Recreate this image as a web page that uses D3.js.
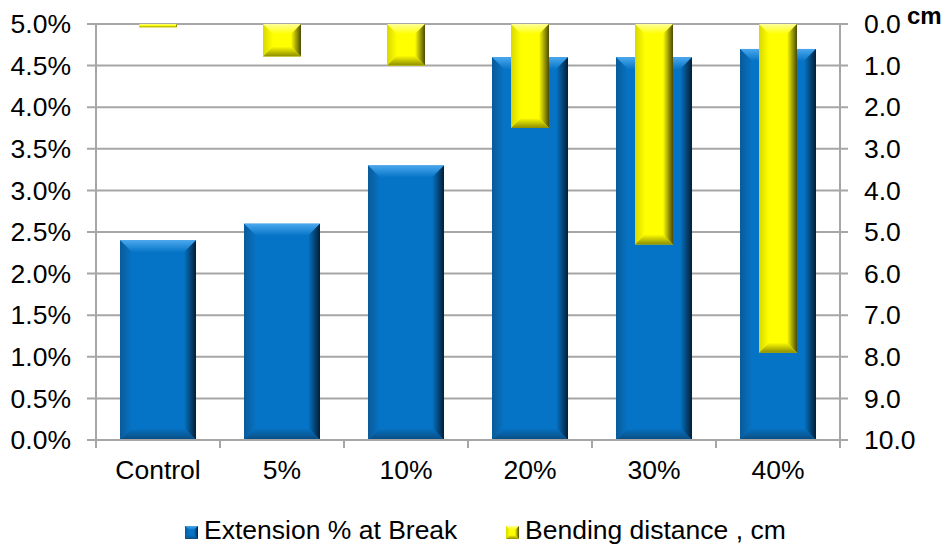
<!DOCTYPE html>
<html><head><meta charset="utf-8">
<script src="https://cdn.jsdelivr.net/npm/d3@7"></script>
<style>body{margin:0;background:#fff}svg{display:block}text{font-family:"Liberation Sans",Arial,sans-serif;fill:#000}</style>
</head><body><svg id="c" width="950" height="550"></svg>
<script>
const categories = ["Control","5%","10%","20%","30%","40%"];
const extension = [0.024,0.026,0.033,0.046,0.046,0.047];
const bending = [0.08,0.78,1.0,2.5,5.3,7.9];
const leftTicks = [0,0.005,0.01,0.015,0.02,0.025,0.03,0.035,0.04,0.045,0.05];
const rightTicks = [0,1,2,3,4,5,6,7,8,9,10];
const seriesNames = ["Extension % at Break","Bending distance , cm"];

const svg = d3.select("#c");
const L = 96, R = 840, T = 24, B = 440;
const x = d3.scaleBand().domain(categories).range([L,R]).paddingInner(0.387).paddingOuter(0.1935);
const yL = d3.scaleLinear().domain([0,0.05]).range([B,T]);
const yR = d3.scaleLinear().domain([0,10]).range([T,B]);
const grid = "#a6a6a6";

svg.append("g").selectAll("line").data(leftTicks).join("line")
  .attr("x1",L-9).attr("x2",R+8).attr("y1",d=>yL(d)).attr("y2",d=>yL(d))
  .attr("stroke",grid).attr("stroke-width",2);

const defs = svg.append("defs");
function grad(id,x1,y1,x2,y2,c1,c2){
  const g = defs.append("linearGradient").attr("id",id).attr("x1",x1).attr("y1",y1).attr("x2",x2).attr("y2",y2);
  g.append("stop").attr("offset","0%").attr("stop-color",c1);
  g.append("stop").attr("offset","100%").attr("stop-color",c2);
}
const pal = {
  b:{base:"#0674c6",top:"#4aa8ee",left:"#0a5a98",right:"#041e35",bottom:"#0a4a7e"},
  y:{base:"#ffff00",top:"#ffff9a",left:"#d8d800",right:"#4a4a00",bottom:"#8c8c00"}
};
Object.entries(pal).forEach(([k,p])=>{
  grad(k+"T",0,0,0,1,p.top,p.base);
  grad(k+"R",0,0,1,0,p.base,p.right);
  grad(k+"Bt",0,0,0,1,p.base,p.bottom);
  grad(k+"L",0,0,1,0,p.left,p.base);
});
function bevel(g,x0,y0,w,h,k,bs){
  const b = Math.min(bs,w/2,h/2);
  g.append("rect").attr("x",x0).attr("y",y0).attr("width",w).attr("height",h).attr("fill",pal[k].base);
  const P = a=>a.map(p=>p.join(",")).join(" ");
  g.append("polygon").attr("points",P([[x0,y0],[x0+w,y0],[x0+w-b,y0+b],[x0+b,y0+b]])).attr("fill",`url(#${k}T)`);
  g.append("polygon").attr("points",P([[x0,y0],[x0+b,y0+b],[x0+b,y0+h-b],[x0,y0+h]])).attr("fill",`url(#${k}L)`);
  g.append("polygon").attr("points",P([[x0+w,y0],[x0+w,y0+h],[x0+w-b,y0+h-b],[x0+w-b,y0+b]])).attr("fill",`url(#${k}R)`);
  g.append("polygon").attr("points",P([[x0,y0+h],[x0+w,y0+h],[x0+w-b,y0+h-b],[x0+b,y0+h-b]])).attr("fill",`url(#${k}Bt)`);
}

const gb = svg.append("g");
categories.forEach((c,i)=>{
  bevel(gb,x(c),yL(extension[i]),x.bandwidth(),B-yL(extension[i]),"b",12);
});
const gy = svg.append("g");
const yw = 38;
categories.forEach((c,i)=>{
  const cx = x(c)+x.bandwidth()/2;
  bevel(gy,cx-yw/2,T,yw,yR(bending[i])-T,"y",10);
});

svg.append("line").attr("x1",L).attr("x2",L).attr("y1",T).attr("y2",B).attr("stroke",grid).attr("stroke-width",2);
svg.append("line").attr("x1",R).attr("x2",R).attr("y1",T).attr("y2",B).attr("stroke",grid).attr("stroke-width",2);
svg.append("line").attr("x1",L-9).attr("x2",R+8).attr("y1",B).attr("y2",B).attr("stroke",grid).attr("stroke-width",2);
const bounds = categories.map(c=>x(c)-x.step()*x.paddingInner()/2).concat([R]);
svg.append("g").selectAll("line").data(bounds).join("line")
  .attr("x1",d=>d).attr("x2",d=>d).attr("y1",B).attr("y2",B+8).attr("stroke",grid).attr("stroke-width",2);

const fs = 26.5;
svg.append("g").selectAll("text").data(leftTicks).join("text")
  .attr("x",71).attr("y",d=>yL(d)).attr("dy","0.35em").attr("text-anchor","end")
  .attr("font-size",fs).text(d3.format(".1%"));
svg.append("g").selectAll("text").data(rightTicks).join("text")
  .attr("x",864).attr("y",d=>yR(d)).attr("dy","0.35em").attr("text-anchor","start")
  .attr("font-size",fs).text(d3.format(".1f"));
svg.append("g").selectAll("text").data(categories).join("text")
  .attr("x",d=>x(d)+x.bandwidth()/2).attr("y",479).attr("text-anchor","middle")
  .attr("font-size",fs).text(d=>d);
svg.append("text").attr("x",907).attr("y",24).attr("font-size",24).attr("font-weight","bold").text("cm");

const lg = svg.append("g");
const legX = [185,506];
seriesNames.forEach((n,i)=>{
  const k = i===0?"b":"y";
  bevel(lg,legX[i],526,13,13,k,4);
  lg.append("text").attr("x",legX[i]+19).attr("y",539).attr("font-size",fs).text(n);
});
</script></body></html>
